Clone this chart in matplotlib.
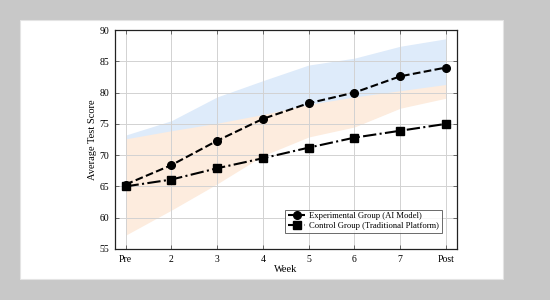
import numpy as np
import matplotlib.pyplot as plt
from matplotlib.patches import Rectangle

# Datos
weeks = ["Pre", "2", "3", "4", "5", "6", "7", "Post"]
exp_scores = [65.3, 68.4, 72.3, 75.8, 78.3, 80.0, 82.6, 84.0]
ctrl_scores = [65.0, 66.1, 67.9, 69.5, 71.2, 72.8, 73.9, 75.0]

# Bandas sombreadas
exp_upper = [73.2, 75.5, 79.3, 81.9, 84.4, 85.5, 87.4, 88.6]
exp_lower = [57.5, 61.4, 65.6, 70.1, 73.1, 74.6, 77.6, 79.3]
ctrl_upper = [72.6, 73.9, 75.1, 76.5, 78.1, 79.3, 80.3, 81.3]
ctrl_lower = [57.2, 61.2, 65.4, 69.9, 72.9, 74.5, 77.5, 79.1]

plt.rcParams['font.family'] = ['Liberation Serif', 'DejaVu Serif']

fig = plt.figure(figsize=(5.5, 3.0), dpi=100, facecolor='#c8c8c8')
fig.patches.append(Rectangle((20 / 550, 21 / 300), 483 / 550, 259 / 300,
                             transform=fig.transFigure, facecolor='white',
                             edgecolor='#e4e4e4', linewidth=0.8, zorder=-10))

ax = fig.add_axes([115 / 550, 51 / 300, 342 / 550, 219 / 300])
x = np.arange(len(weeks))

# bandas debajo de la rejilla
ax.fill_between(x, exp_lower, exp_upper, color='#deebfa', linewidth=0, zorder=0.5)
ax.fill_between(x, ctrl_lower, ctrl_upper, color='#fdecde', linewidth=0, zorder=0.6)

ax.plot(x, exp_scores, color='black', linestyle='--', linewidth=1.5,
        marker='o', markersize=5.5, label='Experimental Group (AI Model)', zorder=3)
ax.plot(x, ctrl_scores, color='black', linestyle='-.', linewidth=1.5,
        marker='s', markersize=5.5, label='Control Group (Traditional Platform)', zorder=3)

ax.set_xlim(-0.23, 7.24)
ax.set_ylim(55, 90)
ax.set_xticks(x)
ax.set_xticklabels(weeks)
ax.set_yticks(np.arange(55, 91, 5))
ax.tick_params(direction='in', length=3, width=0.6, labelsize=7, top=True, right=True,
               color='#555555', pad=4)
ax.set_axisbelow('line')
ax.grid(True, color='#d2d2d2', linewidth=0.7)
for s in ax.spines.values():
    s.set_linewidth(0.9)
    s.set_color('#222222')

ax.set_xlabel('Week', fontsize=7.5, labelpad=1)
ax.set_ylabel('Average Test Score', fontsize=7.5, labelpad=2)

leg = ax.legend(loc='lower right', bbox_to_anchor=(0.956, 0.073), fontsize=6.2,
                frameon=True, fancybox=False, edgecolor='#444444', borderaxespad=0,
                handlelength=2.0, handletextpad=0.5, borderpad=0.3, labelspacing=0.25)
leg.get_frame().set_linewidth(0.7)

fig.savefig('out.png', dpi=100, facecolor=fig.get_facecolor())
